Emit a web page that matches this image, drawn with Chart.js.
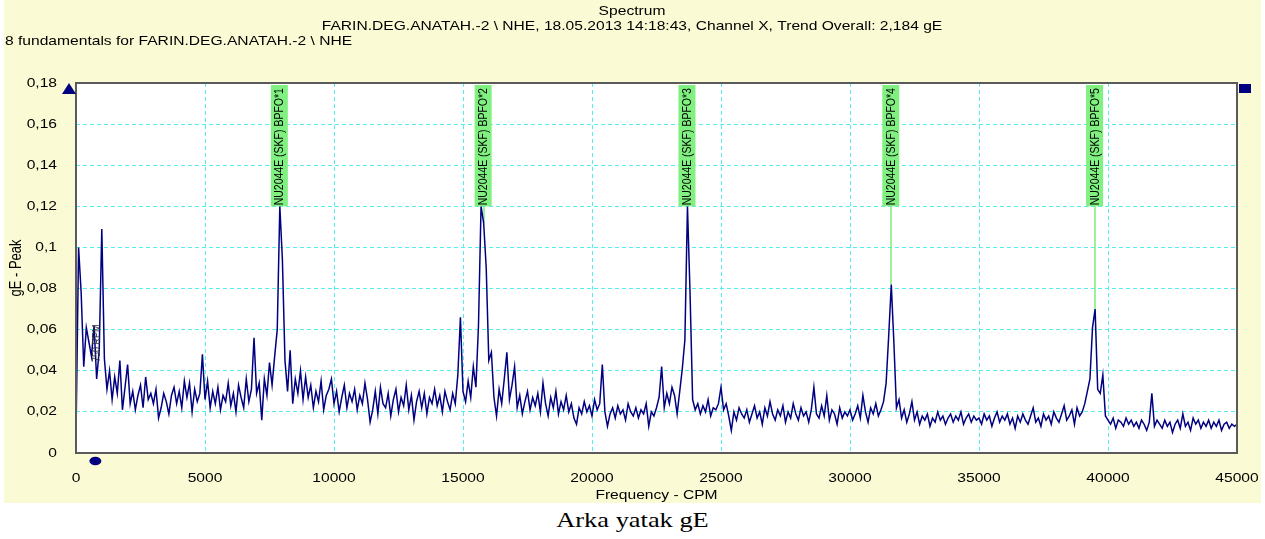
<!DOCTYPE html>
<html lang="tr">
<head>
    <meta charset="UTF-8">
    <title>Spectrum</title>
    <script src="https://cdn.jsdelivr.net/npm/chart.js"></script>
    <style>
        body {
            margin: 0;
            background: #ffffff;
            width: 1265px;
            height: 539px;
            overflow: hidden;
            position: relative;
        }

        .chart-box {
            position: absolute;
            left: 0;
            top: 0;
            width: 1265px;
            height: 503px;
        }

        .caption {
            position: absolute;
            left: 0;
            top: 507px;
            width: 1265px;
            text-align: center;
            font-family: 'Liberation Serif', 'Times New Roman', serif;
            font-size: 22px;
            line-height: 26px;
            color: #000;
            transform: scaleX(1.2);
        }
    </style>
</head>
<body>
    <div class="chart-box">
        <canvas id="spectrum" width="1265" height="503"></canvas>
    </div>
    <div class="caption">Arka yatak gE</div>

    <script>
        // spectrum lines, one every 100 CPM from 0 to 45000 CPM (gE peak)
        const cpmStep = 100;
        const amplitude = [
            0.008, 0.100, 0.078, 0.042, 0.061, 0.054, 0.047, 0.062, 0.036, 0.050,
            0.109, 0.046, 0.031, 0.040, 0.026, 0.037, 0.029, 0.045, 0.021, 0.032,
            0.043, 0.024, 0.030, 0.021, 0.028, 0.033, 0.022, 0.037, 0.026, 0.029,
            0.024, 0.031, 0.017, 0.022, 0.029, 0.025, 0.019, 0.028, 0.032, 0.024,
            0.030, 0.022, 0.035, 0.027, 0.034, 0.020, 0.031, 0.025, 0.029, 0.048,
            0.026, 0.035, 0.022, 0.030, 0.024, 0.032, 0.021, 0.028, 0.025, 0.034,
            0.023, 0.029, 0.020, 0.033, 0.027, 0.022, 0.036, 0.025, 0.031, 0.056,
            0.029, 0.034, 0.016, 0.036, 0.028, 0.044, 0.033, 0.047, 0.060, 0.120,
            0.094, 0.045, 0.030, 0.050, 0.024, 0.036, 0.029, 0.040, 0.026, 0.037,
            0.027, 0.033, 0.022, 0.030, 0.025, 0.035, 0.021, 0.028, 0.031, 0.036,
            0.024, 0.030, 0.020, 0.027, 0.033, 0.022, 0.029, 0.025, 0.031, 0.021,
            0.028, 0.024, 0.034, 0.026, 0.015, 0.021, 0.030, 0.019, 0.032, 0.024,
            0.022, 0.029, 0.018, 0.026, 0.031, 0.020, 0.027, 0.023, 0.033, 0.021,
            0.028, 0.016, 0.025, 0.030, 0.022, 0.029, 0.019, 0.027, 0.024, 0.031,
            0.023, 0.028, 0.020, 0.030, 0.025, 0.021, 0.029, 0.024, 0.038, 0.066,
            0.030, 0.025, 0.035, 0.027, 0.042, 0.032, 0.062, 0.120, 0.112, 0.090,
            0.045, 0.049, 0.027, 0.018, 0.031, 0.024, 0.036, 0.049, 0.026, 0.033,
            0.042, 0.022, 0.028, 0.019, 0.025, 0.030, 0.021, 0.027, 0.023, 0.029,
            0.020, 0.034, 0.024, 0.018, 0.027, 0.022, 0.030, 0.019, 0.025, 0.021,
            0.028, 0.020, 0.024, 0.017, 0.014, 0.022, 0.019, 0.025, 0.020, 0.023,
            0.018, 0.026, 0.021, 0.024, 0.043, 0.020, 0.013, 0.019, 0.022, 0.017,
            0.023, 0.019, 0.021, 0.016, 0.024, 0.020, 0.018, 0.022, 0.017, 0.021,
            0.019, 0.024, 0.013, 0.020, 0.018, 0.022, 0.027, 0.042, 0.022, 0.029,
            0.024, 0.032, 0.028, 0.019, 0.030, 0.041, 0.055, 0.120, 0.078, 0.026,
            0.021, 0.024, 0.019, 0.023, 0.020, 0.026, 0.018, 0.022, 0.021, 0.024,
            0.032, 0.021, 0.024, 0.018, 0.011, 0.020, 0.016, 0.022, 0.019, 0.017,
            0.021, 0.015, 0.019, 0.023, 0.017, 0.020, 0.014, 0.022, 0.018, 0.025,
            0.019, 0.016, 0.021, 0.018, 0.023, 0.015, 0.020, 0.017, 0.024, 0.019,
            0.016, 0.022, 0.018, 0.020, 0.015, 0.021, 0.032, 0.019, 0.017, 0.023,
            0.018, 0.028, 0.016, 0.021, 0.019, 0.014, 0.022, 0.017, 0.020, 0.018,
            0.021, 0.016, 0.019, 0.023, 0.017, 0.028, 0.020, 0.015, 0.022, 0.019,
            0.024, 0.018, 0.021, 0.025, 0.034, 0.057, 0.082, 0.054, 0.022, 0.026,
            0.017, 0.021, 0.015, 0.019, 0.025, 0.016, 0.020, 0.014, 0.018, 0.016,
            0.019, 0.013, 0.017, 0.015, 0.020, 0.016, 0.018, 0.014, 0.017, 0.019,
            0.015, 0.018, 0.016, 0.020, 0.014, 0.017, 0.019, 0.015, 0.018, 0.016,
            0.017, 0.014, 0.019, 0.016, 0.018, 0.013, 0.017, 0.020, 0.015, 0.018,
            0.016, 0.019, 0.014, 0.017, 0.012, 0.018, 0.015, 0.019, 0.016, 0.014,
            0.018, 0.022, 0.015, 0.017, 0.013, 0.019, 0.016, 0.018, 0.014, 0.020,
            0.017, 0.015, 0.019, 0.023, 0.016, 0.018, 0.021, 0.014, 0.022, 0.018,
            0.020, 0.024, 0.030, 0.036, 0.061, 0.070, 0.031, 0.029, 0.038, 0.018,
            0.016, 0.014, 0.017, 0.012, 0.016, 0.015, 0.013, 0.017, 0.014, 0.016,
            0.013, 0.015, 0.012, 0.016, 0.014, 0.011, 0.015, 0.029, 0.013, 0.016,
            0.014, 0.012, 0.016, 0.013, 0.015, 0.010, 0.014, 0.016, 0.012, 0.019,
            0.013, 0.015, 0.011, 0.017, 0.014, 0.016, 0.012, 0.015, 0.013, 0.016,
            0.012, 0.015, 0.013, 0.016, 0.011, 0.014, 0.015, 0.012, 0.014, 0.013,
            0.014
        ];

        // bearing fault markers (CPM) and their labels
        const bpfoFreqs = [7900, 15800, 23700, 31600, 39500];
        const bpfoLabels = [
            'NU2044E (SKF) BPFO*1',
            'NU2044E (SKF) BPFO*2',
            'NU2044E (SKF) BPFO*3',
            'NU2044E (SKF) BPFO*4',
            'NU2044E (SKF) BPFO*5'
        ];
        const bpfoLabelLevel = 0.12;
        const runningSpeed = 750;
        const runningSpeedLabel = '750 RPM';

        const titleLines = [
            'Spectrum',
            'FARIN.DEG.ANATAH.-2 \\ NHE, 18.05.2013 14:18:43, Channel X, Trend Overall: 2,184 gE'
        ];
        const subTitle = '8 fundamentals for FARIN.DEG.ANATAH.-2 \\ NHE';
        const xTitle = 'Frequency - CPM';
        const yTitle = 'gE - Peak';

        const SX = 1.2; // the original screenshot is a bit wider than tall
        const FONT = '"Liberation Sans", Arial, sans-serif';
        const NAVY = '#000080';

        function stretchText(ctx, text, x, y, align, size) {
            ctx.save();
            ctx.font = size + 'px ' + FONT;
            ctx.textAlign = align;
            ctx.textBaseline = 'middle';
            ctx.translate(x, y);
            ctx.scale(SX, 1);
            ctx.fillText(text, 0, 0);
            ctx.restore();
        }

        function upText(ctx, text, x, y, size) {
            // rotated text reading bottom to top, starting at (x, y)
            ctx.save();
            ctx.font = size + 'px ' + FONT;
            ctx.textAlign = 'left';
            ctx.textBaseline = 'middle';
            ctx.translate(x, y);
            ctx.rotate(-Math.PI / 2);
            ctx.scale(1, SX);
            ctx.fillText(text, 0, 0);
            ctx.restore();
        }

        function fmtComma(v) {
            return parseFloat(v.toFixed(2)).toString().replace('.', ',');
        }

        const decor = {
            id: 'decor',
            beforeDraw(chart) {
                const { ctx, chartArea: a } = chart;
                ctx.save();
                ctx.fillStyle = '#fafad4';
                ctx.fillRect(4, 0, 1257, 503);
                ctx.fillStyle = '#ffffff';
                ctx.fillRect(a.left, a.top, a.right - a.left, a.bottom - a.top);
                ctx.restore();
            },
            beforeDatasetsDraw(chart) {
                const { ctx, scales: { x, y } } = chart;
                ctx.save();
                ctx.strokeStyle = '#7cec7c';
                ctx.lineWidth = 1.5;
                bpfoFreqs.forEach(f => {
                    const px = Math.round(x.getPixelForValue(f));
                    ctx.beginPath();
                    ctx.moveTo(px, y.getPixelForValue(bpfoLabelLevel));
                    ctx.lineTo(px, y.getPixelForValue(amplitude[f / cpmStep]));
                    ctx.stroke();
                });
                ctx.restore();
            },
            afterDatasetsDraw(chart) {
                const { ctx, chartArea: a, scales: { x, y } } = chart;
                ctx.save();

                // marker boxes
                bpfoFreqs.forEach((f, i) => {
                    const px = x.getPixelForValue(f);
                    const bottom = y.getPixelForValue(bpfoLabelLevel);
                    ctx.fillStyle = '#80f080';
                    ctx.fillRect(px - 9, a.top + 2, 17, bottom - a.top - 2);
                    ctx.fillStyle = '#000';
                    upText(ctx, bpfoLabels[i], px, bottom - 1, 10.5);
                });

                // running speed
                const rs = x.getPixelForValue(runningSpeed);
                ctx.fillStyle = '#333';
                upText(ctx, runningSpeedLabel, rs + 2, 362, 9);
                ctx.fillStyle = NAVY;
                ctx.beginPath();
                ctx.ellipse(rs, a.bottom + 8, 6, 4.3, 0, 0, Math.PI * 2);
                ctx.fill();

                // frame
                ctx.strokeStyle = '#5a5a5a';
                ctx.lineWidth = 2;
                ctx.strokeRect(a.left, a.top, a.right - a.left, a.bottom - a.top);

                // cursor markers
                ctx.fillStyle = NAVY;
                ctx.beginPath();
                ctx.moveTo(69, a.top);
                ctx.lineTo(76, a.top + 11);
                ctx.lineTo(62, a.top + 11);
                ctx.closePath();
                ctx.fill();
                ctx.fillRect(a.right + 2, a.top + 1, 12, 9);

                // tick labels
                ctx.fillStyle = '#000';
                y.ticks.forEach(t => {
                    stretchText(ctx, fmtComma(t.value), a.left - 19, y.getPixelForValue(t.value), 'right', 13);
                });
                x.ticks.forEach(t => {
                    stretchText(ctx, String(t.value), x.getPixelForValue(t.value), 478, 'center', 13);
                });

                // titles
                stretchText(ctx, xTitle, (a.left + a.right) / 2, 495, 'center', 13);
                ctx.save();
                ctx.font = '13px ' + FONT;
                ctx.textAlign = 'center';
                ctx.textBaseline = 'middle';
                ctx.translate(17, (a.top + a.bottom) / 2);
                ctx.rotate(-Math.PI / 2);
                ctx.scale(1, SX);
                ctx.fillText(yTitle, 0, 0);
                ctx.restore();

                stretchText(ctx, titleLines[0], 632, 11, 'center', 13);
                stretchText(ctx, titleLines[1], 632, 26, 'center', 13);
                stretchText(ctx, subTitle, 5, 41, 'left', 13);

                ctx.restore();
            }
        };

        const points = amplitude.map((v, i) => ({ x: i * cpmStep, y: v }));

        new Chart(document.getElementById('spectrum'), {
            type: 'line',
            data: {
                datasets: [{
                    label: 'Spectrum',
                    data: points,
                    borderColor: NAVY,
                    borderWidth: 1.5,
                    pointRadius: 0,
                    fill: false,
                    tension: 0
                }]
            },
            options: {
                responsive: false,
                animation: false,
                events: [],
                layout: {
                    padding: { top: 83, left: 0, right: 28, bottom: 0 }
                },
                plugins: {
                    legend: { display: false },
                    tooltip: { enabled: false },
                    title: { display: false }
                },
                scales: {
                    x: {
                        type: 'linear',
                        min: 0,
                        max: 45000,
                        ticks: { stepSize: 5000, display: false },
                        grid: { color: '#55eeee', lineWidth: 1, drawTicks: false },
                        border: { display: false, dash: [4, 3] },
                        afterFit(scale) { scale.height = 50; }
                    },
                    y: {
                        min: 0,
                        max: 0.18,
                        ticks: { stepSize: 0.02, display: false },
                        grid: { color: '#55eeee', lineWidth: 1, drawTicks: false },
                        border: { display: false, dash: [4, 3] },
                        afterFit(scale) { scale.width = 76; }
                    }
                }
            },
            plugins: [decor]
        });
    </script>
</body>
</html>
